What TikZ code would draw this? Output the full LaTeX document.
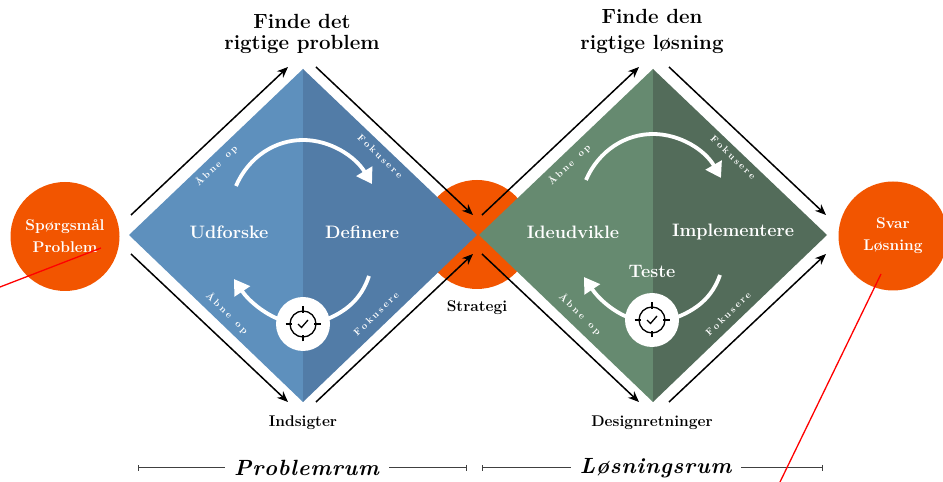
\documentclass[tikz,border=0pt]{standalone}
\usepackage{fontspec}
\usetikzlibrary{arrows.meta}
\definecolor{blueleft}{HTML}{5E90BD}
\definecolor{blueright}{HTML}{527CA7}
\definecolor{greenleft}{HTML}{668A70}
\definecolor{greenright}{HTML}{536C5A}
\definecolor{dotorange}{HTML}{F25500}
\newcommand{\spacedtext}[2]{\foreach \c in {#2}{\c\kern#1}}
\newcommand{\openlabel}{\spacedtext{2.3pt}{Å,b,n,e,\ ,o,p}}
\newcommand{\focuslabel}{\spacedtext{2.2pt}{F,o,k,u,s,e,r,e}}
\tikzset{
  dot/.style={circle, fill=dotorange, text=white, minimum size=109pt, inner sep=0pt, align=center, font=\fontsize{15.5}{22}\selectfont\bfseries\addfontfeature{FakeBold=0.4}},
  phase/.style={text=white, font=\fontsize{18}{22}\selectfont\bfseries\addfontfeature{FakeBold=0.4}},
  edgelabel/.style={text=white, font=\fontsize{9.5}{12}\selectfont\bfseries},
  heading/.style={font=\fontsize{20.5}{24}\selectfont\bfseries\addfontfeature{FakeBold=0.6}},
  caption/.style={font=\fontsize{15.5}{18}\selectfont\bfseries\addfontfeature{FakeBold=0.4}},
  spacename/.style={inner xsep=9pt, font=\fontsize{22}{24}\selectfont\bfseries\itshape\addfontfeature{FakeBold=0.5}},
  bigarrow/.style={black, line width=1.5pt, -{Stealth[length=11pt,width=9pt]}},
  roundarrow/.style={white, line width=3.8pt, -{Triangle[length=15pt,width=18pt]}},
  roundline/.style={white, line width=3.8pt},
  rangeline/.style={black!75, line width=1pt, {Bar[width=6pt]}-},
  redline/.style={red, line width=1.3pt},
  icon/.style={black, line width=1.3pt}
}
\begin{document}
\begin{tikzpicture}[x=1pt, y=1pt]
    \useasboundingbox (0,0) rectangle (943,482);

    %%circles
    \node[dot] (question) at (65,245.5) {Spørgsmål\\Problem};
    \node[dot] (strategydot) at (477,247.5) {};
    \node[dot] (answer) at (893,246) {Svar\\Løsning};

    %%diamond 1
    \fill[blueleft] (129,247) -- (303,413) -- (303,80) -- cycle;
    \fill[blueright] (303,413) -- (477,247) -- (303,80) -- cycle;

    %%diamond 2
    \fill[greenleft] (479,247) -- (653,413) -- (653,80) -- cycle;
    \fill[greenright] (653,413) -- (827,247) -- (653,80) -- cycle;

    %%arrow ends
    \coordinate (a1) at (131,267);
    \coordinate (a2) at (288,415);
    \coordinate (a3) at (316,415);
    \coordinate (a4) at (473,267);
    \coordinate (a5) at (131,228);
    \coordinate (a6) at (288,80);
    \coordinate (a7) at (316,80);
    \coordinate (a8) at (473,228);
    \coordinate (b1) at (482,267);
    \coordinate (b2) at (639,415);
    \coordinate (b3) at (669,415);
    \coordinate (b4) at (826,267);
    \coordinate (b5) at (482,228);
    \coordinate (b6) at (639,80);
    \coordinate (b7) at (669,80);
    \coordinate (b8) at (826,228);

    \draw[bigarrow] (a1) -- (a2);
    \draw[bigarrow] (a3) -- (a4);
    \draw[bigarrow] (a5) -- (a6);
    \draw[bigarrow] (a7) -- (a8);
    \draw[bigarrow] (b1) -- (b2);
    \draw[bigarrow] (b3) -- (b4);
    \draw[bigarrow] (b5) -- (b6);
    \draw[bigarrow] (b7) -- (b8);

    %%round arrows 1
    \draw[roundarrow] (236,296) .. controls (249,326) and (276,342) .. (303,342) .. controls (330,342) and (355,326) .. (372,298);
    \draw[roundline] (369,206) .. controls (361,182) and (345,170) .. (325,162);
    \draw[roundarrow] (281,162) .. controls (264,168) and (248,182) .. (234,203);
    \node[circle, fill=white, minimum size=54pt, inner sep=0pt] (target1) at (303,158) {};

    %%round arrows 2
    \draw[roundarrow] (586,302) .. controls (599,332) and (626,348) .. (653,348) .. controls (680,348) and (705,332) .. (721,304);
    \draw[roundline] (720,207) .. controls (712,184) and (696,172) .. (675,164);
    \draw[roundarrow] (630,164) .. controls (613,170) and (598,184) .. (584,205);
    \node[circle, fill=white, minimum size=54pt, inner sep=0pt] (target2) at (652,162) {};

    %%target 1
    \begin{scope}[shift={(target1)}]
        \draw[icon] (0,0) circle (13);
        \draw[icon] (-17.5,0) -- (-11,0);
        \draw[icon] (17.5,0) -- (11,0);
        \draw[icon] (0,-17.5) -- (0,-11);
        \draw[icon] (0,17.5) -- (0,11);
        \draw[icon] (-5,0) -- (-1.5,-3.5) -- (5,4);
    \end{scope}

    %%target 2
    \begin{scope}[shift={(target2)}]
        \draw[icon] (0,0) circle (13);
        \draw[icon] (-17.5,0) -- (-11,0);
        \draw[icon] (17.5,0) -- (11,0);
        \draw[icon] (0,-17.5) -- (0,-11);
        \draw[icon] (0,17.5) -- (0,11);
        \draw[icon] (-5,0) -- (-1.5,-3.5) -- (5,4);
    \end{scope}

    %%phases
    \node[phase] (explore) at (229,250) {Udforske};
    \node[phase] (define) at (362,250) {Definere};
    \node[phase] (ideate) at (573,250) {Ideudvikle};
    \node[phase] (implement) at (733,250) {Implementere};
    \node[phase] (test) at (652,211) {Teste};

    %%edge labels
    \node[edgelabel, rotate=44] (open1) at (217,317) {\openlabel};
    \node[edgelabel, rotate=-44] (focus1) at (381,325) {\focuslabel};
    \node[edgelabel, rotate=-44] (open2) at (228,168) {\openlabel};
    \node[edgelabel, rotate=44] (focus2) at (377,169) {\focuslabel};
    \node[edgelabel, rotate=44] (open3) at (570,318) {\openlabel};
    \node[edgelabel, rotate=-44] (focus3) at (734,324) {\focuslabel};
    \node[edgelabel, rotate=-44] (open4) at (581,167) {\openlabel};
    \node[edgelabel, rotate=44] (focus4) at (729,169) {\focuslabel};

    %%headings
    \node[heading] (title1a) at (302,461) {Finde det};
    \node[heading] (title1b) at (302,438) {rigtige problem};
    \node[heading] (title2a) at (652,466) {Finde den};
    \node[heading] (title2b) at (652,438) {rigtige løsning};

    %%captions
    \node[caption] (strategy) at (477,174) {Strategi};
    \node[caption] (insights) at (303,59) {Indsigter};
    \node[caption] (directions) at (652,59) {Designretninger};

    %%spaces
    \node[spacename] (problemspace) at (307,14) {\spacedtext{0.8pt}{P,r,o,b,l,e,m,r,u,m}};
    \node[spacename] (solutionspace) at (656,14) {\spacedtext{0.8pt}{L,ø,s,n,i,n,g,s,r,u,m}};
    \coordinate (r1) at (138,14);
    \coordinate (r2) at (467,14);
    \coordinate (r3) at (482,14);
    \coordinate (r4) at (823,14);
    \draw[rangeline] (r1) -- (problemspace);
    \draw[rangeline] (r2) -- (problemspace);
    \draw[rangeline] (r3) -- (solutionspace);
    \draw[rangeline] (r4) -- (solutionspace);

    %%red lines
    \coordinate (red1a) at (0,195);
    \coordinate (red1b) at (101,234);
    \coordinate (red2a) at (881,208);
    \coordinate (red2b) at (780,0);
    \draw[redline] (red1a) -- (red1b);
    \draw[redline] (red2a) -- (red2b);
\end{tikzpicture}
\end{document}
